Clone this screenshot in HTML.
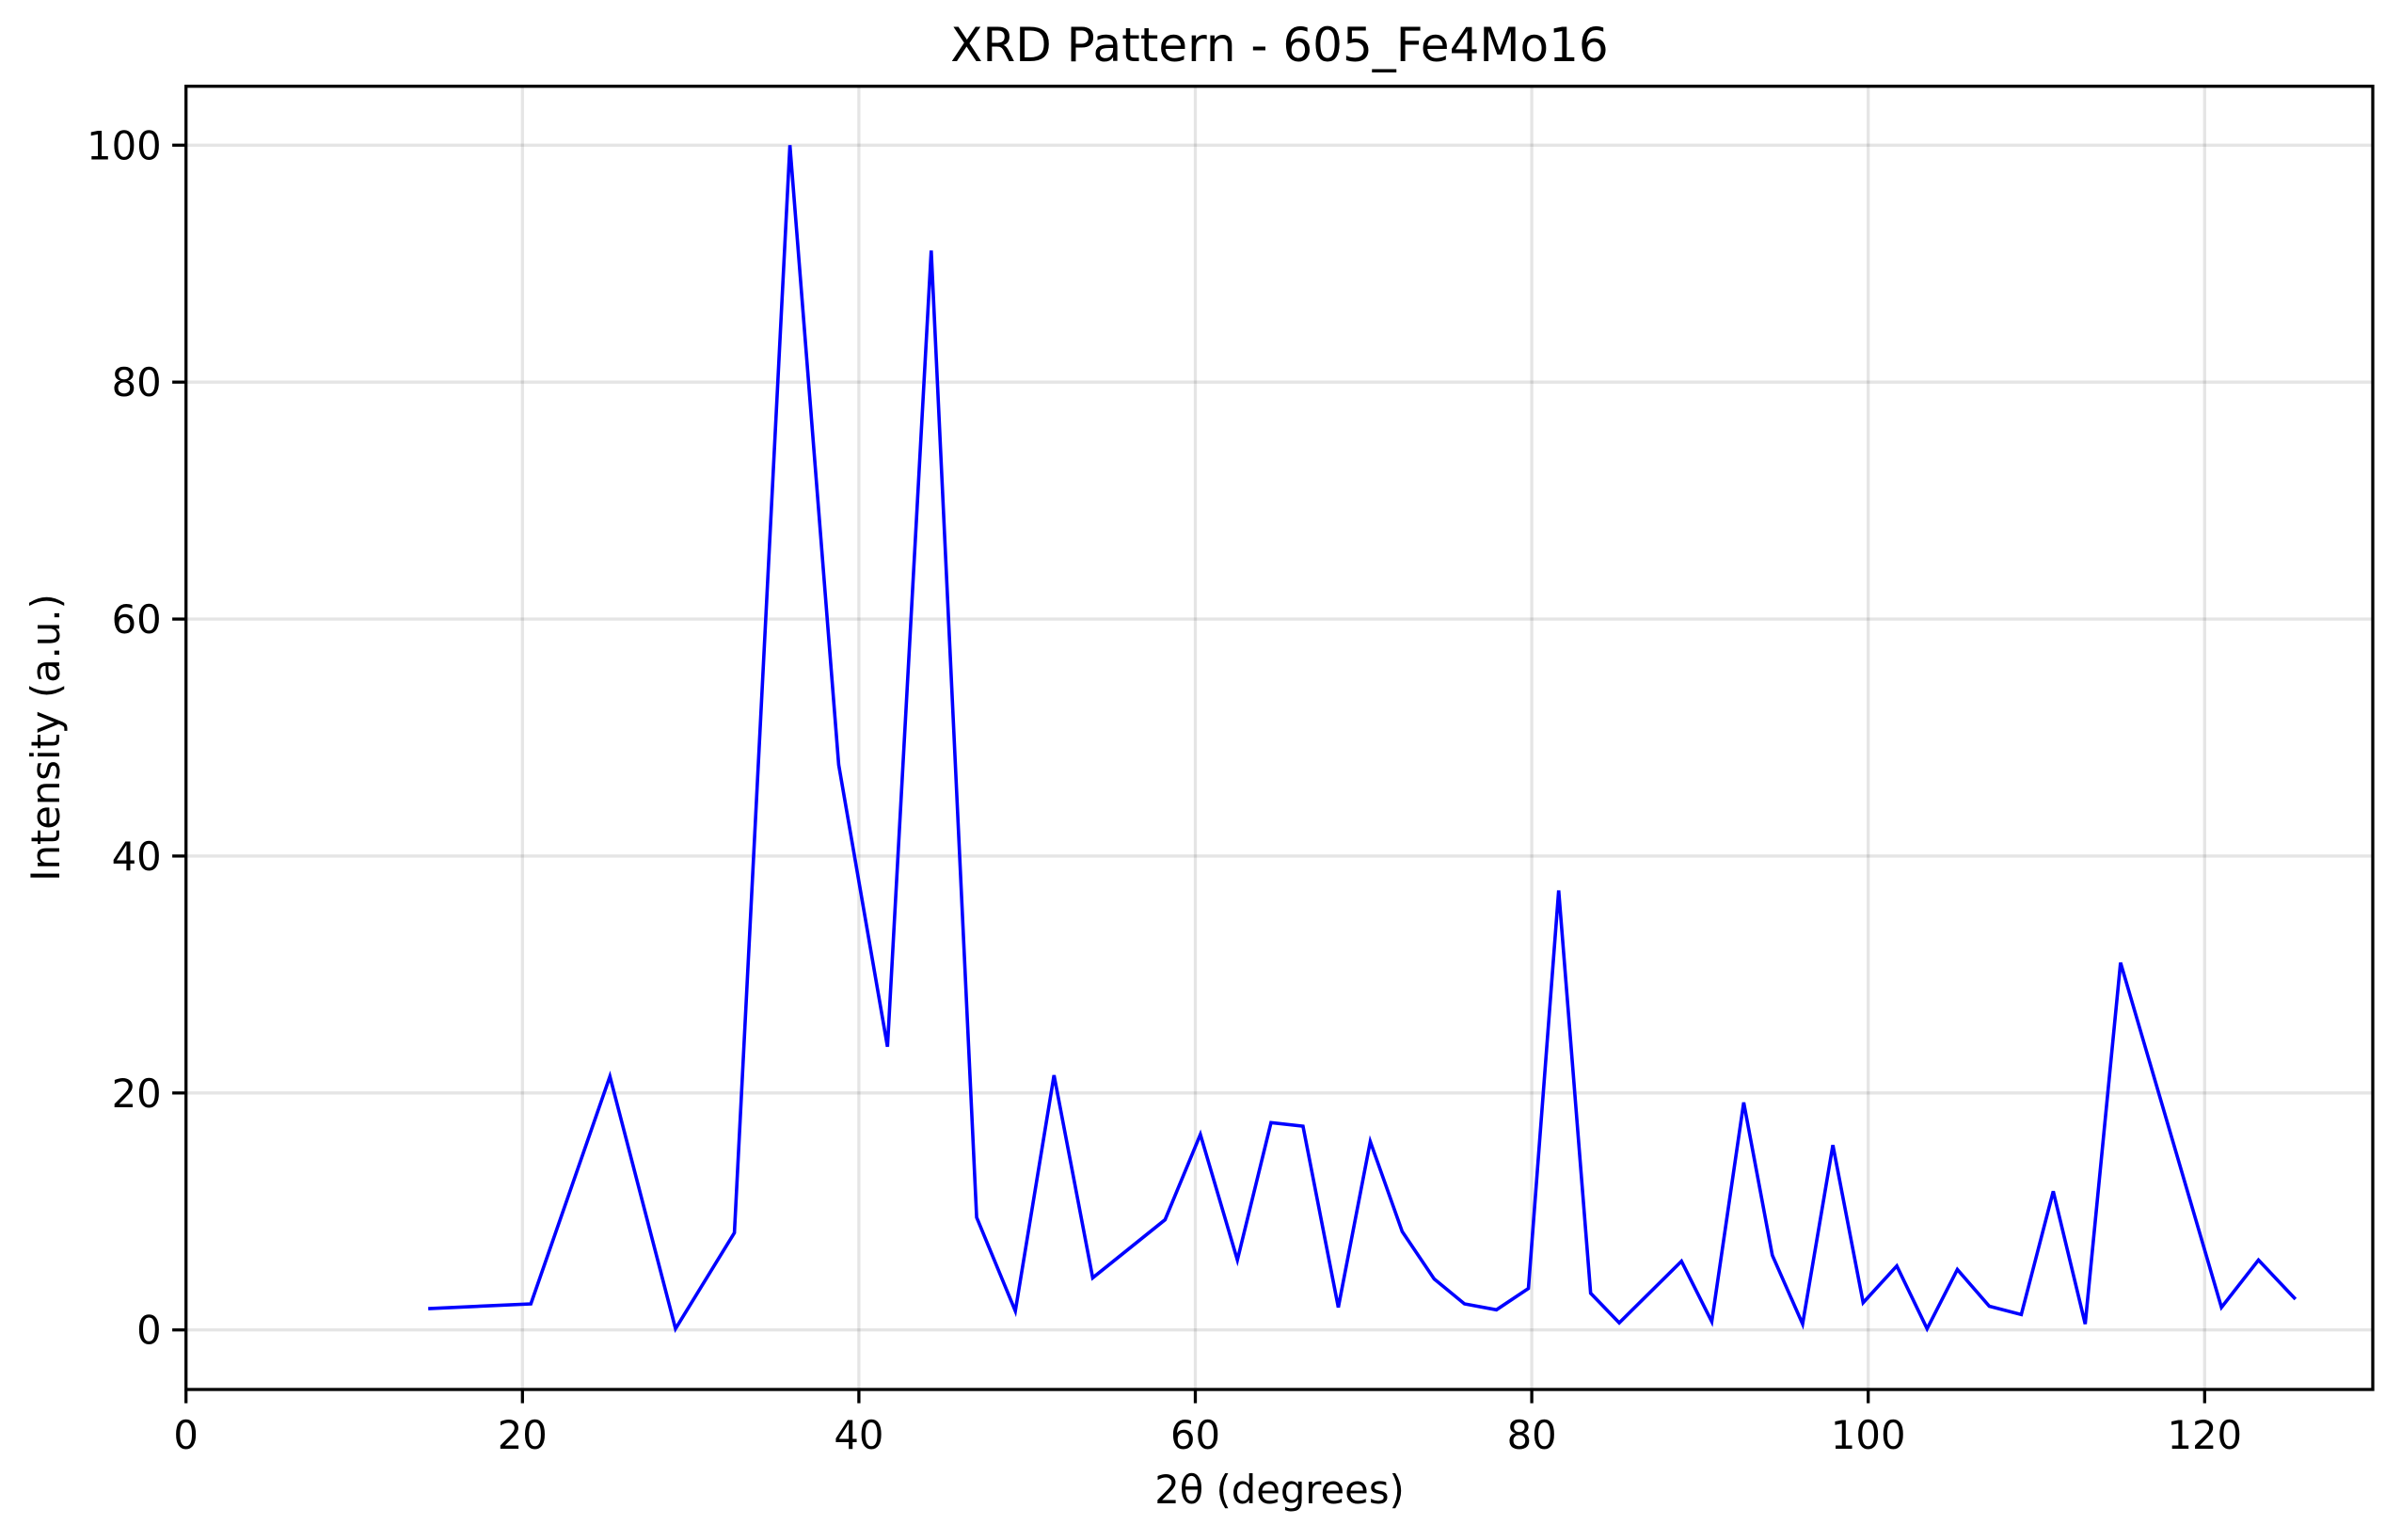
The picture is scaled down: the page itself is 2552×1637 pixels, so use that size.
<!DOCTYPE html>
<html><head><meta charset="utf-8"><style>
html,body{margin:0;padding:0;background:#fff;}
svg{display:block;font-family:"DejaVu Sans","Liberation Sans",sans-serif;}
</style></head><body>
<svg id="chart" width="2552" height="1637" viewBox="0 0 2552 1637">
<g id="grid"></g>
<g id="ticks"></g>
<polyline id="line" fill="none" stroke="#0000ff" stroke-width="3.6" stroke-linejoin="miter"/>
<rect x="197.7" y="91.7" width="2324.3" height="1385.3" fill="none" stroke="#000" stroke-width="3.3"/>
<text x="1360" y="65" font-size="50" text-anchor="middle">XRD Pattern - 605_Fe4Mo16</text>
<text x="1360" y="1598" font-size="41.7" text-anchor="middle">2θ (degrees)</text>
<text transform="translate(63,784) rotate(-90)" font-size="41.7" text-anchor="middle">Intensity (a.u.)</text>
</svg>
<script>
const xs=[14.4,20.5,25.2,29.1,32.6,35.9,38.8,41.7,44.3,47.0,49.3,51.6,53.9,58.2,60.3,62.5,64.5,66.4,68.5,70.4,72.3,74.2,76.0,77.9,79.8,81.6,83.5,85.2,88.9,90.7,92.6,94.3,96.1,97.9,99.7,101.7,103.5,105.3,107.2,109.1,111.0,112.9,115.0,119.0,121.0,123.2,125.4];
const ys=[1.8,2.2,21.4,0.1,8.2,100,47.7,23.9,91.1,9.5,1.6,21.5,4.4,9.3,16.5,5.9,17.5,17.2,1.9,15.9,8.3,4.3,2.2,1.7,3.5,37.1,3.1,0.6,5.8,0.7,19.2,6.3,0.5,15.6,2.3,5.4,0.1,5.1,2.0,1.3,11.7,0.5,31.0,11.6,1.9,5.9,2.6];
const xTicks=[0,20,40,60,80,100,120];
const yTicks=[0,20,40,60,80,100];
const L=197.7,R=2522,T=91.7,B=1477;
function sx(v){return 197.7+v*17.88;}
function sy(v){return 1413.7-v*12.594;}
const NS='http://www.w3.org/2000/svg';
const grid=document.getElementById('grid'),ticks=document.getElementById('ticks');
function mk(tag,attrs,parent){const e=document.createElementNS(NS,tag);for(const k in attrs)e.setAttribute(k,attrs[k]);parent.appendChild(e);return e;}
xTicks.forEach(v=>{const x=sx(v);
 const g=mk('line',{x1:x,x2:x,y1:T,y2:B,stroke:'#000','stroke-opacity':0.1,'stroke-width':3.3},grid);
 
 
 const t=mk('line',{x1:x,x2:x,y1:B,y2:B+14.6,stroke:'#000','stroke-width':3.3},ticks);
 
 
 const l=mk('text',{x:x,y:1540,'font-size':41.7,'text-anchor':'middle'},ticks);l.textContent=v;
 
 
});
yTicks.forEach(v=>{const y=sy(v);
 const g=mk('line',{x1:L,x2:R,y1:y,y2:y,stroke:'#000','stroke-opacity':0.1,'stroke-width':3.3},grid);
 
 
 const t=mk('line',{x1:L-14.6,x2:L,y1:y,y2:y,stroke:'#000','stroke-width':3.3},ticks);
 
 
 const l=mk('text',{x:L-26,y:y+15,'font-size':41.7,'text-anchor':'end'},ticks);l.textContent=v;
 
 
});
document.getElementById('line').setAttribute('points',xs.map((x,i)=>sx(x)+','+sy(ys[i])).join(' '));
</script>
</body></html>
